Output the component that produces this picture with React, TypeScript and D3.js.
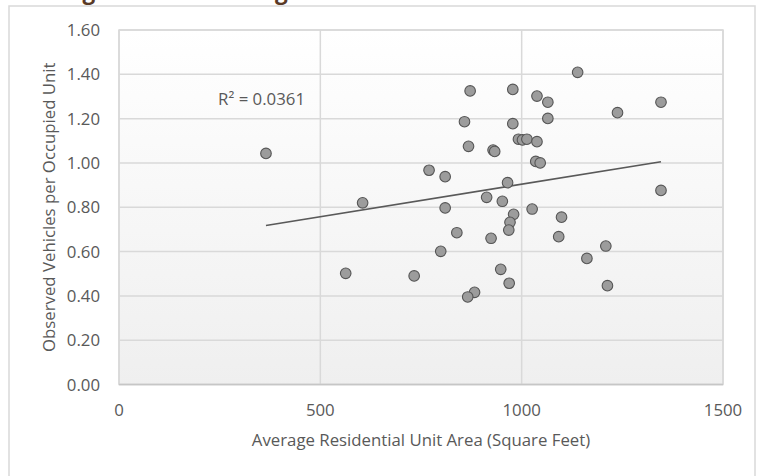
import React from "react";
import * as d3 from "d3";

// Average residential unit area (sq ft)
const unitArea = [
  365, 605, 563, 733, 1139, 872, 978, 1038, 1065, 1346, 1238, 1065, 858, 978,
  992, 1002, 1013, 1038, 868, 929, 933, 1035, 1046, 770, 810, 965, 1346, 913,
  952, 810, 1026, 1099, 980, 971, 968, 839, 1092, 924, 1209, 799, 1162, 948,
  969, 883, 866, 1213,
];
// Observed vehicles per occupied unit
const vehiclesPerUnit = [
  1.043, 0.82, 0.502, 0.49, 1.409, 1.325, 1.332, 1.302, 1.274, 1.274, 1.227,
  1.201, 1.186, 1.177, 1.107, 1.104, 1.107, 1.096, 1.075, 1.058, 1.052, 1.007,
  1.0, 0.967, 0.938, 0.911, 0.876, 0.845, 0.827, 0.797, 0.792, 0.755, 0.768,
  0.732, 0.697, 0.685, 0.667, 0.66, 0.625, 0.601, 0.569, 0.52, 0.457, 0.416,
  0.395, 0.446,
];

const xTicks = [0, 500, 1000, 1500];
const yTicks = [0, 0.2, 0.4, 0.6, 0.8, 1.0, 1.2, 1.4, 1.6];

// Linear trendline (as displayed by the chart)
const trendSlope = 0.0002933;
const trendIntercept = 0.6107;
const rSquaredLabel = "R² = 0.0361";

const titleText = "Average Vehicle Parking Rates";
const xTitle = "Average Residential Unit Area (Square Feet)";
const yTitle = "Observed Vehicles per Occupied Unit";

export default function App() {
  const W = 764;
  const H = 476;
  const plot = { left: 119, right: 723, top: 30, bottom: 384.5 };
  const x = d3.scaleLinear().domain([0, 1500]).range([plot.left, plot.right]);
  const y = d3.scaleLinear().domain([0, 1.6]).range([plot.bottom, plot.top]);

  const xMin = d3.min(unitArea) as number;
  const xMax = d3.max(unitArea) as number;
  const trend = d3
    .line<number>()
    .x((d) => x(d))
    .y((d) => y(trendIntercept + trendSlope * d));

  const font = "'Open Sans', sans-serif";
  const textColor = "#595959";
  const gridColor = "#d9d9d9";
  const fs = 16.8;

  return (
    <svg
      width={W}
      height={H}
      style={{ position: "absolute", left: 0, top: 0, background: "#fff" }}
    >
      <defs>
        <linearGradient id="plotBg" x1="0" y1="0" x2="0" y2="1">
          <stop offset="0" stopColor="#ffffff" />
          <stop offset="1" stopColor="#efefef" />
        </linearGradient>
      </defs>

      <text
        x={17}
        y={-1}
        fontFamily={font}
        fontWeight={700}
        fontSize={22.5}
        fill="#5a3a26"
      >
        {titleText}
      </text>

      {/* chart area border */}
      <rect
        x={9}
        y={6}
        width={746}
        height={500}
        fill="#fff"
        stroke={gridColor}
        strokeWidth={1.5}
      />

      {/* plot area */}
      <rect
        x={plot.left}
        y={plot.top}
        width={plot.right - plot.left}
        height={plot.bottom - plot.top}
        fill="url(#plotBg)"
      />

      {/* gridlines */}
      {yTicks.map((t) => (
        <line
          key={"gy" + t}
          x1={plot.left}
          x2={plot.right}
          y1={y(t)}
          y2={y(t)}
          stroke={gridColor}
          strokeWidth={1.5}
        />
      ))}
      {xTicks.map((t) => (
        <line
          key={"gx" + t}
          x1={x(t)}
          x2={x(t)}
          y1={plot.top}
          y2={plot.bottom}
          stroke={gridColor}
          strokeWidth={1.5}
        />
      ))}
      <rect
        x={plot.left}
        y={plot.top}
        width={plot.right - plot.left}
        height={plot.bottom - plot.top}
        fill="none"
        stroke={gridColor}
        strokeWidth={1.5}
      />
      <line
        x1={plot.left}
        x2={plot.right}
        y1={plot.bottom}
        y2={plot.bottom}
        stroke="#c6c6c6"
        strokeWidth={1.5}
      />

      {/* y tick labels */}
      {yTicks.map((t) => (
        <text
          key={"ly" + t}
          x={100}
          y={y(t)}
          dy="0.36em"
          textAnchor="end"
          fontFamily={font}
          fontSize={fs}
          fill={textColor}
        >
          {d3.format(".2f")(t)}
        </text>
      ))}
      {/* x tick labels */}
      {xTicks.map((t) => (
        <text
          key={"lx" + t}
          x={x(t)}
          y={416}
          textAnchor="middle"
          fontFamily={font}
          fontSize={fs}
          fill={textColor}
        >
          {t}
        </text>
      ))}

      {/* axis titles */}
      <text
        x={(plot.left + plot.right) / 2}
        y={446}
        textAnchor="middle"
        fontFamily={font}
        fontSize={fs}
        fill={textColor}
      >
        {xTitle}
      </text>
      <text
        transform={`translate(55, ${(plot.top + plot.bottom) / 2}) rotate(-90)`}
        textAnchor="middle"
        fontFamily={font}
        fontSize={fs}
        fill={textColor}
      >
        {yTitle}
      </text>

      {/* trendline */}
      <path
        d={trend([xMin, xMax]) || ""}
        fill="none"
        stroke="#595959"
        strokeWidth={1.6}
      />

      {/* points */}
      {unitArea.map((a, i) => (
        <circle
          key={"p" + i}
          cx={x(a)}
          cy={y(vehiclesPerUnit[i])}
          r={5.3}
          fill="#9c9c9c"
          stroke="#555555"
          strokeWidth={1.1}
        />
      ))}

      <text
        x={305}
        y={105}
        textAnchor="end"
        fontFamily={font}
        fontSize={fs}
        fill={textColor}
      >
        {rSquaredLabel}
      </text>
    </svg>
  );
}
